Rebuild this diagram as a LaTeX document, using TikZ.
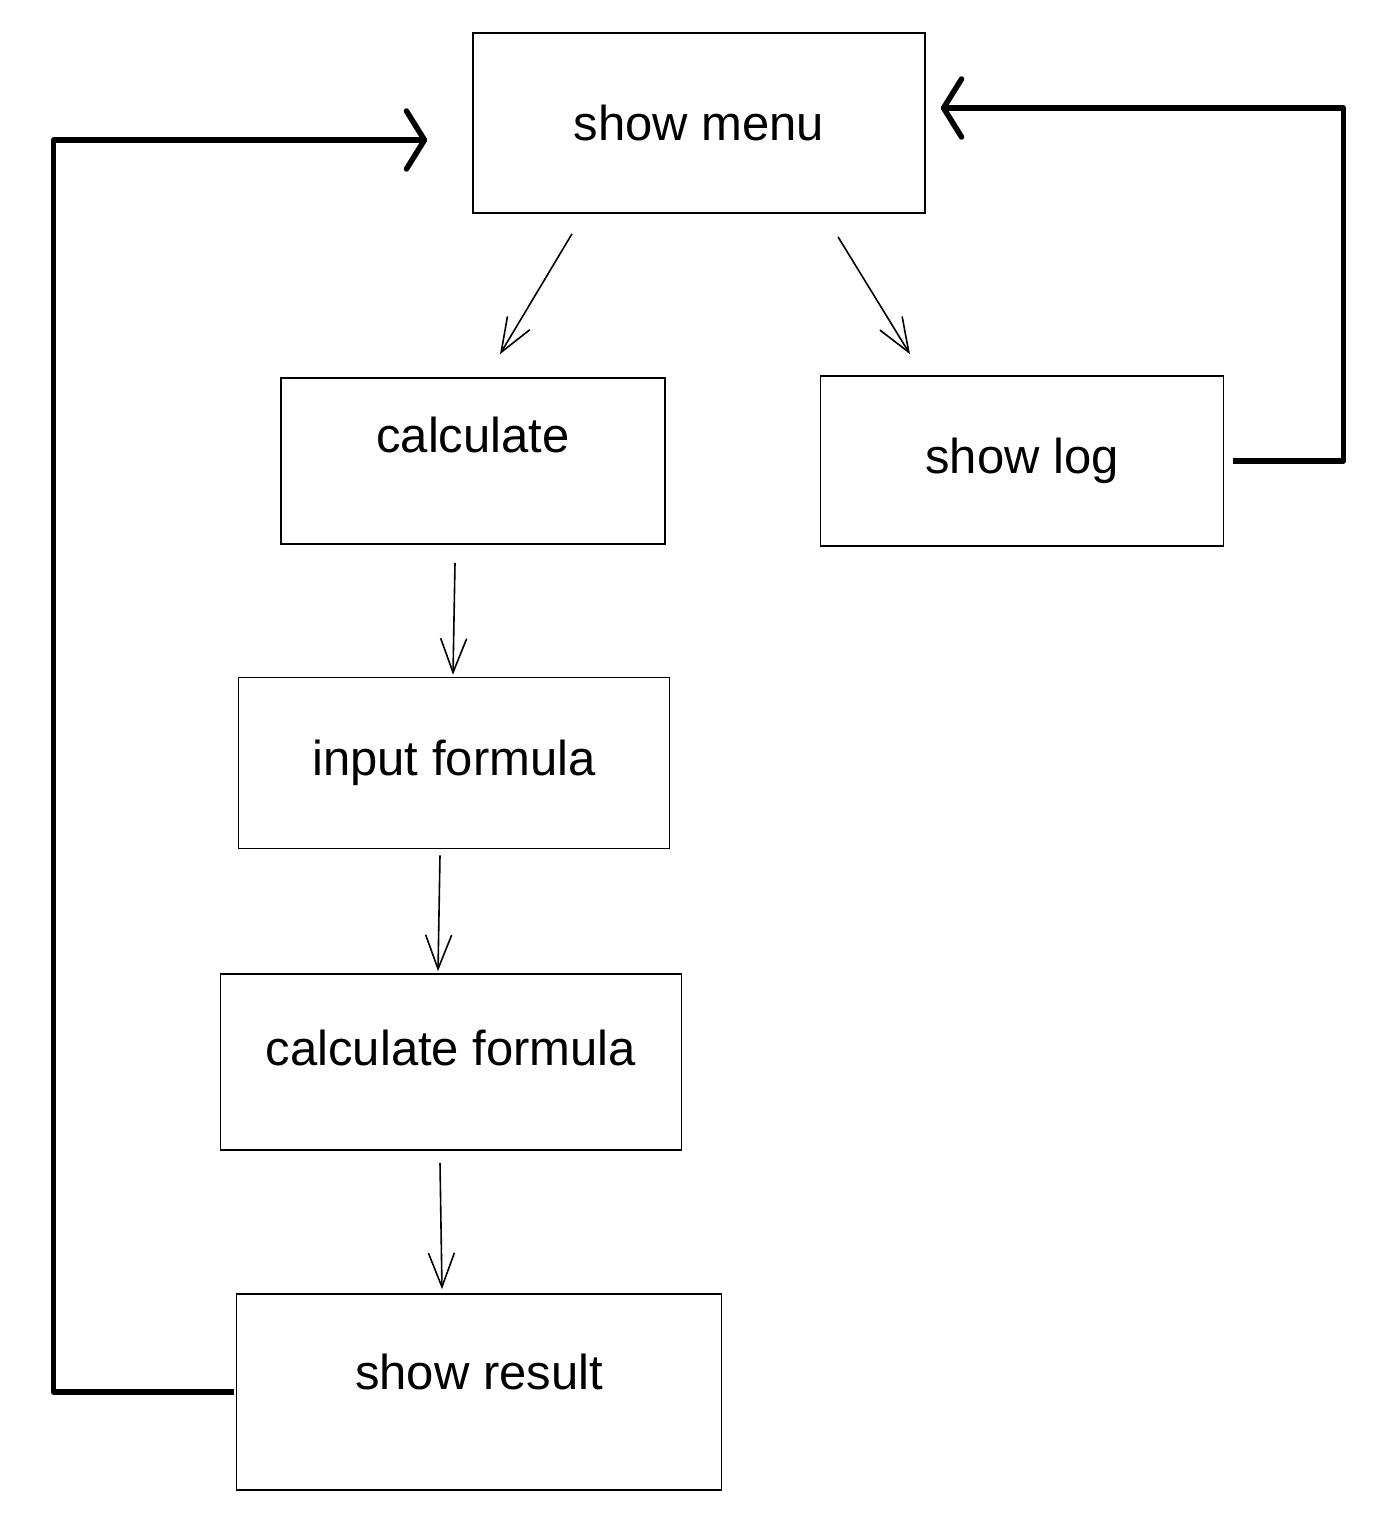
\documentclass[tikz,border=0pt]{standalone}
\usepackage{fontspec}
\setmainfont{Liberation Sans}
\usetikzlibrary{positioning, arrows.meta}
\tikzset{
stepbox/.style={draw, line width=1.6pt, inner sep=0pt, font=\fontsize{49}{53}\selectfont}, % one box of the flow
raised/.style={text height=36pt, text depth=#1}, % lifts the text above the middle of its box
flow/.style={-{Straight Barb[length=34pt, width=26pt]}, line width=1.6pt}, % thin arrows between steps
loopback/.style={-{Straight Barb[length=18pt, width=58pt, line cap=round, line join=round]}, line width=5.5pt, line join=round}, % thick arrows back to the menu
}

\begin{document}
\begin{tikzpicture}[x=1pt, y=-1pt]
    \useasboundingbox (0,0) rectangle (1384,1522);

    \node[stepbox, minimum width=452pt, minimum height=180pt] (menu) at (699,123) {show menu};
    \node[stepbox, raised=54pt, minimum width=384pt, minimum height=166pt] (calc) at (473,461) {calculate};
    \node[stepbox, minimum width=403pt, minimum height=170pt] (log) at (1022,461) {show log};
    \node[stepbox, minimum width=431pt, minimum height=171pt] (input) at (454,763) {input formula};
    \node[stepbox, raised=30pt, minimum width=461pt, minimum height=176pt] (calcf) at (451,1062) {calculate formula};
    \node[stepbox, raised=42pt, minimum width=485pt, minimum height=196pt] (result) at (479,1392) {show result};

    \draw[flow] ([xshift=-127pt, yshift=-20pt]menu.south) -- ([xshift=27pt, yshift=23pt]calc.north);
    \draw[flow] ([xshift=139pt, yshift=-23pt]menu.south) -- ([xshift=-112pt, yshift=21pt]log.north);
    \draw[flow] ([xshift=-18pt, yshift=-18pt]calc.south) -- ([xshift=-1pt, yshift=2pt]input.north);
    \draw[flow] ([xshift=-14pt, yshift=-6pt]input.south) -- ([xshift=-13pt, yshift=2pt]calcf.north);
    \draw[flow] ([xshift=-11pt, yshift=-12pt]calcf.south) -- ([xshift=-37pt, yshift=4pt]result.north);

    % back to the menu
    \draw[loopback] ([xshift=-2pt]result.west) -- ++(-180,0) |- ([xshift=-45pt, yshift=-17pt]menu.west);
    \draw[loopback] ([xshift=9pt]log.east) -- ++(110,0) |- ([xshift=15pt, yshift=15pt]menu.east);

\end{tikzpicture}
\end{document}
